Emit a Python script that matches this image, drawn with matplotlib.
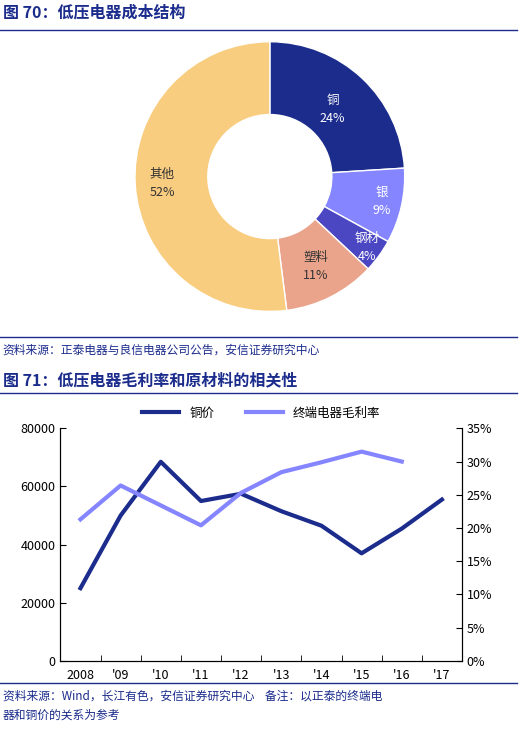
import numpy as np
import matplotlib.pyplot as plt
from matplotlib.ticker import FuncFormatter

plt.rcParams['font.family'] = ['Noto Sans CJK SC', 'DejaVu Sans']

# ---------- data ----------
pie_labels = ['铜', '银', '钢材', '塑料', '其他']
pie_values = [24, 9, 4, 11, 52]
pie_colors = ['#1b2c8c', '#8585ff', '#4b46c2', '#eba48c', '#f9cd80']

years = ['2008', "'09", "'10", "'11", "'12", "'13", "'14", "'15", "'16", "'17"]
copper = [25000, 50000, 68500, 55000, 57500, 51500, 46500, 37000, 45500, 55500]
margin = [21.3, 26.4, 23.4, 20.4, 25.3, 28.4, 29.9, 31.5, 30.0]

navy = '#1b2c8c'
fig = plt.figure(figsize=(5.25, 7.45), dpi=100)

# ---------- headers ----------
fig.text(0.005, 0.983, '图 70：低压电器成本结构', fontsize=11.5, fontweight='bold',
         color=navy, va='center')
fig.add_artist(plt.Line2D([0, 0.985], [0.96, 0.96], color=navy, lw=1))
fig.add_artist(plt.Line2D([0, 0.985], [0.548, 0.548], color=navy, lw=1))
fig.text(0.005, 0.530, '资料来源：正泰电器与良信电器公司公告，安信证券研究中心', fontsize=8.5,
         color=navy, style='italic', va='center')
fig.text(0.005, 0.490, '图 71：低压电器毛利率和原材料的相关性', fontsize=11.5,
         fontweight='bold', color=navy, va='center')
fig.add_artist(plt.Line2D([0, 0.985], [0.472, 0.472], color=navy, lw=1))
fig.add_artist(plt.Line2D([0, 0.985], [0.083, 0.083], color=navy, lw=1))
fig.text(0.005, 0.066, '资料来源：Wind，长江有色，安信证券研究中心    备注：以正泰的终端电',
         fontsize=8.5, color=navy, style='italic', va='center')
fig.text(0.005, 0.040, '器和铜价的关系为参考', fontsize=8.5, color=navy, style='italic',
         va='center')

# ---------- donut ----------
ax1 = fig.add_axes([0.257, 0.582, 0.514, 0.362])
wedges, _ = ax1.pie(pie_values, colors=pie_colors, startangle=90, counterclock=False,
                    radius=1.0, wedgeprops=dict(width=0.54, edgecolor='white', lw=1))
ax1.set_xlim(-1, 1)
ax1.set_ylim(-1, 1)
ax1.set_aspect('equal')
label_r = [0.68, 0.85, 0.89, 0.75, 0.8]
ang = 90
for lab, v, w, r in zip(pie_labels, pie_values, wedges, label_r):
    mid = np.deg2rad(ang - v * 3.6 / 2)
    ang -= v * 3.6
    c = 'white' if lab in ('铜', '银', '钢材') else '#333333'
    ax1.text(r * np.cos(mid), r * np.sin(mid), f'{lab}\n{v}%', ha='center', va='center',
             fontsize=9, color=c, linespacing=1.5)

# ---------- line chart ----------
ax2 = fig.add_axes([0.115, 0.113, 0.765, 0.312])
x = np.arange(len(years))
ax2.plot(x, copper, color=navy, lw=3, label='铜价')
ax2.set_ylim(0, 80000)
ax2.set_yticks(range(0, 80001, 20000))
ax2.set_xlim(-0.5, 9.5)
ax2.set_xticks(x)
ax2.set_xticklabels(years)
ax2.set_xticks(np.arange(-0.5, 10, 1), minor=True)
ax2.tick_params(axis='x', which='major', length=0, pad=6)
ax2.tick_params(axis='x', which='minor', direction='in', length=4)
ax2.tick_params(axis='y', direction='in', length=4)
ax2.tick_params(labelsize=9)
ax2.spines['top'].set_visible(False)

ax3 = ax2.twinx()
ax3.plot(x[:len(margin)], margin, color='#8585ff', lw=3, label='终端电器毛利率')
ax3.set_ylim(0, 35)
ax3.set_yticks(range(0, 36, 5))
ax3.yaxis.set_major_formatter(FuncFormatter(lambda v, p: f'{v:.0f}%'))
ax3.tick_params(axis='y', direction='in', length=4, labelsize=9)
ax3.spines['top'].set_visible(False)

h1, l1 = ax2.get_legend_handles_labels()
h2, l2 = ax3.get_legend_handles_labels()
ax2.legend(h1 + h2, l1 + l2, loc='lower center', bbox_to_anchor=(0.5, 0.99), ncol=2,
           frameon=False, fontsize=9, handlelength=3, columnspacing=2.5)

fig.savefig('out.png', dpi=100)
